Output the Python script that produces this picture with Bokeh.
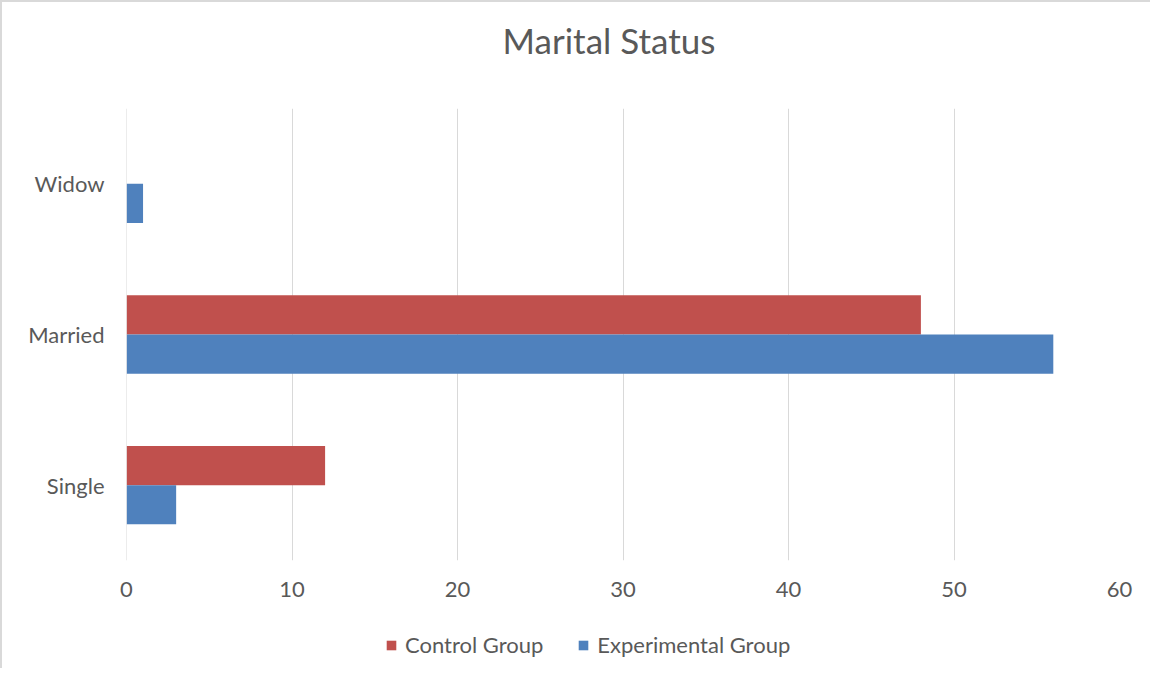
from bokeh.plotting import figure
from bokeh.layouts import column
from bokeh.models import (Range1d, FactorRange, Legend, LegendItem, FixedTicker,
                          ColumnDataSource, Span, Div)
from bokeh.transform import dodge
from bokeh.embed import file_html
from bokeh.resources import INLINE

title_text = "Marital Status"
categories = ["Single", "Married", "Widow"]
control_group = [12, 48, 0]
experimental_group = [3, 56, 1]
series_names = ["Control Group", "Experimental Group"]
series_colors = ["#C0504D", "#4F81BD"]
x_ticks = [0, 10, 20, 30, 40, 50, 60]

FONT = "Lato"
TXT = "#595959"
GRID = "#d9d9d9"

src = ColumnDataSource(dict(cat=categories, control=control_group, exp=experimental_group))

# title strip
title_div = Div(text=title_text, width=1150, height=76, margin=0,
                styles={"border-top": "2px solid " + GRID, "border-left": "2px solid " + GRID,
                        "font-family": FONT, "font-size": "35px", "color": TXT,
                        "text-align": "center", "text-indent": "66px",
                        "line-height": "76px", "white-space": "nowrap"})

p = figure(width=1150, height=544,
           y_range=FactorRange(*categories), x_range=Range1d(0, 60),
           output_backend="svg", toolbar_location=None,
           min_border_left=124, min_border_right=33,
           min_border_top=32, min_border_bottom=60)
p.styles = {"border-left": "2px solid " + GRID}
p.title.text = ""

p.add_layout(Span(location=x_ticks[0], dimension="height", line_color=GRID, line_width=1))

r1 = p.hbar(y=dodge("cat", 0.13, range=p.y_range), right="control", left=0, height=0.26,
            source=src, fill_color=series_colors[0], line_color=None)
r2 = p.hbar(y=dodge("cat", -0.13, range=p.y_range), right="exp", left=0, height=0.26,
            source=src, fill_color=series_colors[1], line_color=None)

p.outline_line_color = None
p.xaxis.ticker = FixedTicker(ticks=x_ticks)
p.xgrid.ticker = FixedTicker(ticks=x_ticks)
p.xgrid.grid_line_color = GRID
p.ygrid.grid_line_color = None

for ax in (p.xaxis[0], p.yaxis[0]):
    ax.axis_line_color = None
    ax.major_tick_line_color = None
    ax.minor_tick_line_color = None
    ax.major_label_text_font = FONT
    ax.major_label_text_font_size = "22px"
    ax.major_label_text_color = TXT
p.xaxis.major_label_standoff = 15
p.yaxis.major_label_standoff = 16

# legend strip underneath (hidden copies of the series supply the legend swatches)
p2 = figure(width=1150, height=48, y_range=FactorRange(*categories), x_range=Range1d(0, 60),
            output_backend="svg", toolbar_location=None,
            min_border_left=0, min_border_right=0, min_border_top=0, min_border_bottom=0)
p2.styles = {"border-left": "2px solid " + GRID}
p2.axis.visible = False
p2.grid.visible = False
p2.outline_line_color = None
items = []
for name, field, col in zip(series_names, ["control", "exp"], series_colors):
    rr = p2.hbar(y="cat", right=field, left=0, height=0.26, source=src,
                 fill_color=col, line_color=None, visible=False)
    items.append(LegendItem(label=name, renderers=[rr]))

legend = Legend(items=items, orientation="horizontal", location=(259, 10),
                label_text_font=FONT, label_text_font_size="22px", label_text_color=TXT,
                glyph_width=12, glyph_height=12, spacing=34, label_standoff=8,
                padding=0, margin=0,
                border_line_color=None, background_fill_alpha=0)
p2.add_layout(legend, "center")

layout = column(title_div, p, p2, spacing=0)
open("out.html", "w").write(file_html(layout, INLINE))
